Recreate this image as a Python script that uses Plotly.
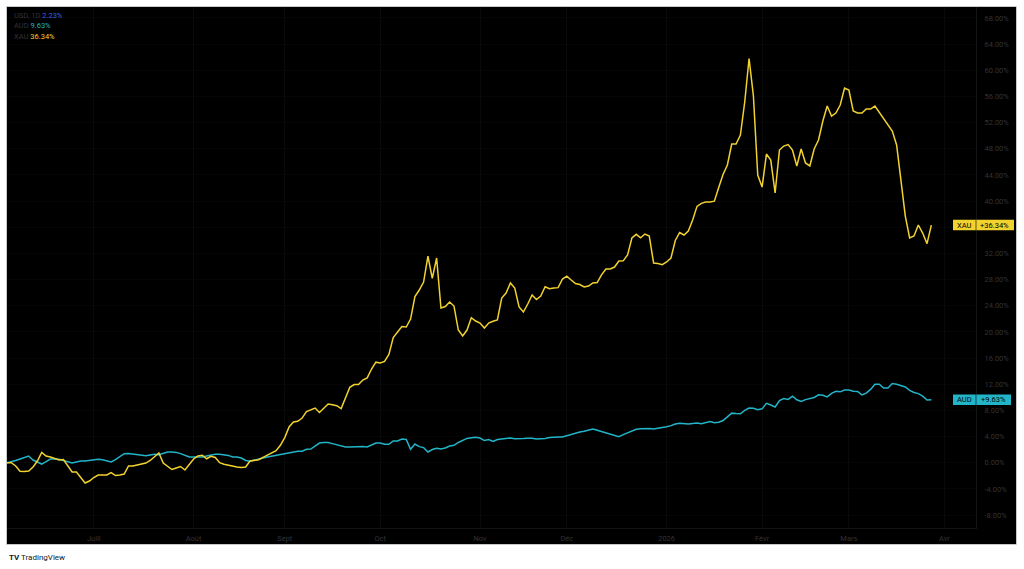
import pandas as pd
import plotly.graph_objects as go

# ---- data (percent change since start, daily bars) ----
start_date = "2025-06-03"

xau = [0.00, 0.00, -0.50, -1.30, -1.35, -1.27, -0.66, 0.26, 1.56, 1.02,
       0.87, 0.64, 0.41, 0.49, -0.50, -1.42, -1.42, -2.19, -3.10, -2.80,
       -2.26, -1.88, -1.88, -1.88, -1.50, -1.96, -1.88, -1.73, -0.50, -0.50,
       -0.35, -0.20, -0.05, 0.34, 0.87, 1.48, -0.05, -0.50, -1.04, -0.81,
       -0.58, -1.12, -0.20, 0.57, 1.02, 1.15, 0.61, 0.98, 0.80, 0.00,
       -0.23, -0.40, -0.54, -0.66, -0.73, -0.66, 0.26, 0.34, 0.46, 0.83,
       1.18, 1.44, 1.85, 2.66, 3.84, 5.46, 6.22, 6.33, 6.83, 7.81,
       8.12, 8.36, 7.68, 8.32, 8.98, 8.88, 8.72, 8.29, 9.89, 11.53,
       11.96, 11.96, 12.65, 12.98, 14.33, 15.37, 15.24, 15.49, 16.56, 19.13,
       19.98, 20.83, 20.75, 21.97, 25.41, 26.41, 27.63, 31.60, 28.20, 31.30,
       23.65, 23.88, 24.57, 23.96, 20.29, 19.37, 20.29, 22.17, 21.67, 21.36,
       20.60, 21.36, 21.62, 21.82, 25.18, 25.95, 27.48, 26.71, 23.81, 23.04,
       24.27, 25.64, 24.95, 25.49, 26.90, 26.60, 26.71, 26.77, 28.09, 28.52,
       27.94, 27.39, 27.25, 26.87, 27.02, 27.48, 27.54, 28.73, 29.62, 29.62,
       29.92, 30.84, 30.87, 31.76, 34.36, 34.92, 34.40, 34.97, 34.66, 30.54,
       30.47, 30.28, 30.69, 31.30, 33.98, 35.20, 34.82, 35.43, 37.10, 39.20,
       39.65, 39.86, 39.86, 40.00, 42.08, 44.07, 45.52, 48.73, 48.73, 50.10,
       55.15, 61.80, 56.07, 43.99, 42.15, 47.20, 46.28, 41.24, 47.81, 48.42,
       48.65, 47.81, 45.37, 47.97, 45.83, 45.37, 47.97, 49.34, 52.25, 54.54,
       53.01, 53.47, 54.69, 57.29, 56.99, 53.78, 53.47, 53.47, 54.08, 54.08,
       54.54, 53.62, 52.71, 51.64, 50.72, 48.58, 43.23, 37.72, 34.36, 34.66,
       36.35, 35.12, 33.50, 36.34]

aud = [0.00, 0.15, 0.35, 0.57, 0.80, 1.02, 0.41, 0.11, -0.20, 0.18,
       0.57, 0.57, 0.52, 0.34, 0.14, -0.05, 0.11, 0.26, 0.26, 0.32,
       0.41, 0.52, 0.44, 0.24, 0.12, 0.46, 0.92, 1.39, 1.41, 1.31,
       1.24, 1.15, 1.06, 1.19, 1.30, 1.21, 1.39, 1.64, 1.64, 1.58,
       1.39, 1.10, 0.87, 0.87, 0.87, 0.87, 1.02, 1.19, 1.30, 1.28,
       1.22, 1.12, 0.89, 0.87, 0.72, 0.34, 0.21, 0.41, 0.61, 0.73,
       0.87, 1.01, 1.15, 1.28, 1.42, 1.54, 1.68, 1.76, 1.77, 2.05,
       2.09, 2.51, 3.01, 3.10, 3.10, 2.92, 2.72, 2.49, 2.40, 2.40,
       2.43, 2.54, 2.48, 2.42, 2.71, 3.01, 3.01, 2.83, 2.81, 3.32,
       3.32, 3.62, 3.55, 2.06, 2.86, 2.46, 2.31, 1.64, 2.02, 2.20,
       2.09, 2.25, 2.55, 2.66, 3.10, 3.38, 3.72, 3.82, 3.88, 3.78,
       3.39, 3.55, 3.24, 3.55, 3.65, 3.70, 3.78, 3.67, 3.64, 3.70,
       3.75, 3.75, 3.62, 3.62, 3.70, 3.84, 3.93, 3.93, 3.93, 4.13,
       4.34, 4.53, 4.69, 4.80, 4.97, 5.15, 4.97, 4.79, 4.62, 4.39,
       4.15, 3.99, 4.30, 4.57, 4.85, 5.11, 5.21, 5.28, 5.24, 5.15,
       5.23, 5.31, 5.49, 5.67, 5.92, 6.04, 5.96, 5.93, 6.01, 6.07,
       5.96, 6.13, 6.30, 6.10, 6.19, 6.45, 7.02, 7.58, 7.51, 7.49,
       8.00, 8.36, 8.33, 8.09, 8.24, 9.08, 8.82, 8.52, 9.50, 9.82,
       9.68, 10.17, 9.63, 9.36, 9.65, 9.82, 9.98, 10.38, 10.31, 10.06,
       10.61, 10.93, 10.84, 11.12, 11.13, 10.92, 10.90, 10.38, 10.64, 11.21,
       11.99, 12.00, 11.42, 11.42, 12.10, 12.00, 11.73, 11.58, 11.07, 10.75,
       10.57, 10.17, 9.59, 9.63]

month_ticks = ["2025-07-01", "2025-08-01", "2025-09-01", "2025-10-01", "2025-11-03",
               "2025-12-01", "2026-01-01", "2026-02-02", "2026-03-02", "2026-04-01"]
month_labels = ["Juill", "Août", "Sept", "Oct", "Nov", "Déc", "2026", "Févr", "Mars", "Avr"]

y_ticks = [-8, -4, 0, 4, 8, 12, 16, 20, 24, 28, 32, 36, 40, 44, 48, 52, 56, 60, 64, 68]
hidden_ticks = [36]  # covered by the XAU last-value label
y_labels = ["" if v in hidden_ticks else f"{v:.2f}%" for v in y_ticks]

usd_change = 2.23

# ---- styles ----
XAU_C = "#F2D22E"
AUD_C = "#22B5C9"
USD_C = "#2962FF"
DIM = "#30333a"
FONT = "Roboto"

dates = pd.bdate_range(start_date, periods=len(xau))

fig = go.Figure()
fig.add_trace(go.Scatter(x=dates, y=aud, mode="lines", name="AUD",
                         line=dict(color=AUD_C, width=1.5), hoverinfo="skip"))
fig.add_trace(go.Scatter(x=dates, y=xau, mode="lines", name="XAU",
                         line=dict(color=XAU_C, width=1.5), hoverinfo="skip"))

W, H = 1024, 569
ml, mr, mt, mb = 7, 48, 7, 41
pw = W - ml - mr
ph = H - mt - mb

def px_x(p):
    return (p - ml) / pw

def px_y(p):
    return 1 - (p - mt) / ph

shapes = [
    dict(type="rect", xref="paper", yref="paper", x0=px_x(7), x1=px_x(1016),
         y0=px_y(544), y1=px_y(7), fillcolor="#000000", line=dict(width=0), layer="below"),
    dict(type="rect", xref="paper", yref="paper", x0=px_x(6.5), x1=px_x(1016.5),
         y0=px_y(544.5), y1=px_y(6.5), fillcolor="rgba(0,0,0,0)",
         line=dict(color="#c9c9c9", width=1), layer="above"),
]

annotations = []
# right-side last value labels
for name, series, col, right in [("XAU", xau, XAU_C, 1014), ("AUD", aud, AUD_C, 1011)]:
    last = series[-1]
    shapes.append(dict(type="rect", xref="paper", yref="y", x0=px_x(953), x1=px_x(right),
                       y0=last - 0.8, y1=last + 0.8, fillcolor=col, line=dict(width=0),
                       layer="above"))
    shapes.append(dict(type="line", xref="paper", yref="y", x0=px_x(976), x1=px_x(976),
                       y0=last - 0.8, y1=last + 0.8, line=dict(color="#000000", width=0.6),
                       layer="above"))
    annotations.append(dict(xref="paper", yref="y", x=px_x(964.5), y=last, text=name,
                            showarrow=False, font=dict(family=FONT, size=7.5, color="#000000"),
                            xanchor="center", yanchor="middle"))
    annotations.append(dict(xref="paper", yref="y", x=px_x((976 + right) / 2), y=last,
                            text=f"+{last:.2f}%", showarrow=False,
                            font=dict(family=FONT, size=7.5, color="#000000"),
                            xanchor="center", yanchor="middle"))

# top-left legend
legend_rows = [
    (15.5, f"<span style='color:{DIM}'>USD, 1D</span> <span style='color:{USD_C}'>{usd_change:.2f}%</span>"),
    (25.7, f"<span style='color:{DIM}'>AUD</span> <span style='color:{AUD_C}'>{aud[-1]:.2f}%</span>"),
    (36.0, f"<span style='color:{DIM}'>XAU</span> <span style='color:{XAU_C}'>{xau[-1]:.2f}%</span>"),
]
for yy, txt in legend_rows:
    annotations.append(dict(xref="paper", yref="paper", x=px_x(12), y=px_y(yy), text=txt,
                            showarrow=False, xanchor="left", yanchor="middle",
                            font=dict(family=FONT, size=7.5)))

# footer
annotations.append(dict(xref="paper", yref="paper", x=px_x(7), y=px_y(557),
                        text="<b>TV</b> TradingView", showarrow=False, xanchor="left",
                        yanchor="middle", font=dict(family=FONT, size=8, color="#131722")))

fig.update_layout(
    width=W, height=H,
    margin=dict(l=ml, r=mr, t=mt, b=mb, pad=0),
    paper_bgcolor="#ffffff",
    plot_bgcolor="#000000",
    showlegend=False,
    shapes=shapes,
    annotations=annotations,
    hovermode=False,
)
fig.update_xaxes(
    type="date",
    range=[start_date, "2026-04-10 07:00"],
    rangebreaks=[dict(bounds=["sat", "mon"])],
    tickvals=month_ticks, ticktext=month_labels,
    showgrid=True, gridcolor="#090909", gridwidth=1,
    zeroline=False, showline=True, linecolor="#131313", linewidth=1,
    ticks="", ticklabelstandoff=3,
    tickfont=dict(family=FONT, size=7.5, color=DIM),
    fixedrange=True,
)
fig.update_yaxes(
    side="right",
    range=[-9.98, 69.68],
    tickvals=y_ticks, ticktext=y_labels,
    showgrid=True, gridcolor="#060606", gridwidth=1,
    zeroline=False, showline=True, linecolor="#131313", linewidth=1,
    ticks="", ticklabelstandoff=6,
    tickfont=dict(family=FONT, size=7.5, color=DIM),
    fixedrange=True,
)

fig.write_html("out.html", config={"displayModeBar": False},
               post_script="document.body.style.margin='0px';document.body.style.overflow='hidden';")
